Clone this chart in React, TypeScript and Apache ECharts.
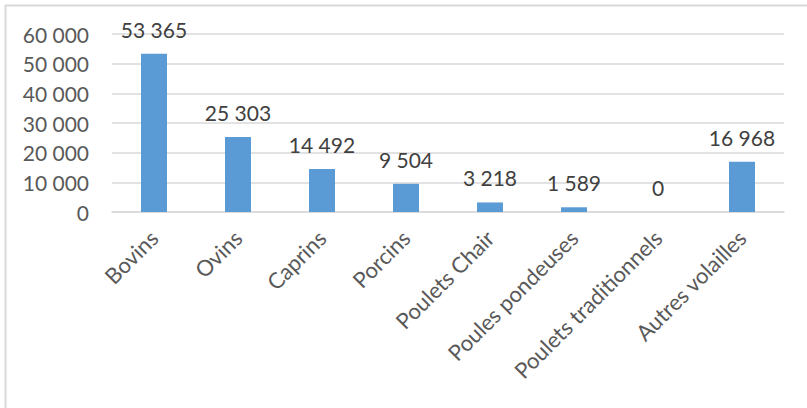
import React, { useEffect, useRef } from "react";
import * as echarts from "echarts";

const categories = [
  "Bovins",
  "Ovins",
  "Caprins",
  "Porcins",
  "Poulets Chair",
  "Poules pondeuses",
  "Poulets traditionnels",
  "Autres volailles",
];
const values = [53365, 25303, 14492, 9504, 3218, 1589, 0, 16968];
const yTicks = [0, 10000, 20000, 30000, 40000, 50000, 60000];

const fmt = (v: number) => String(v).replace(/\B(?=(\d{3})+(?!\d))/g, " ");

export default function App() {
  const ref = useRef<HTMLDivElement>(null);
  useEffect(() => {
    if (!ref.current) return;
    const chart = echarts.init(ref.current, undefined, { renderer: "svg" });
    const font = "Lato, 'Open Sans', sans-serif";
    chart.setOption({
      animation: false,
      backgroundColor: "#ffffff",
      textStyle: { fontFamily: font },
      grid: { left: 112, right: 23, top: 34, bottom: 196, containLabel: false },
      graphic: [
        {
          type: "line",
          shape: { x1: 5.5, y1: 5, x2: 5.5, y2: 408 },
          style: { stroke: "#D9D9D9", lineWidth: 2 },
        },
        {
          type: "line",
          shape: { x1: 5, y1: 5.5, x2: 807, y2: 5.5 },
          style: { stroke: "#D9D9D9", lineWidth: 2 },
        },
      ],
      xAxis: {
        type: "category",
        data: categories,
        axisLine: { show: true, lineStyle: { color: "#D9D9D9", width: 1.5 } },
        axisTick: { show: false },
        axisLabel: {
          rotate: 45,
          interval: 0,
          margin: 22,
          color: "#595959",
          fontSize: 22,
          fontFamily: font,
        },
      },
      yAxis: {
        type: "value",
        min: yTicks[0],
        max: yTicks[yTicks.length - 1],
        interval: 10000,
        axisLine: { show: false },
        axisTick: { show: false },
        splitLine: { show: true, lineStyle: { color: "#D9D9D9", width: 1.5 } },
        axisLabel: {
          margin: 23,
          color: "#595959",
          fontSize: 21,
          fontFamily: font,
          formatter: (v: number) => fmt(v),
        },
      },
      series: [
        {
          type: "bar",
          data: values,
          barWidth: 26,
          itemStyle: { color: "#5B9BD5" },
          label: {
            show: true,
            position: "top",
            distance: 14,
            color: "#404040",
            fontSize: 21,
            fontFamily: font,
            formatter: (p: any) => fmt(p.value),
          },
        },
      ],
    });
    return () => chart.dispose();
  }, []);
  return (
    <div
      ref={ref}
      style={{ position: "absolute", left: 0, top: 0, width: 807, height: 408 }}
    />
  );
}
